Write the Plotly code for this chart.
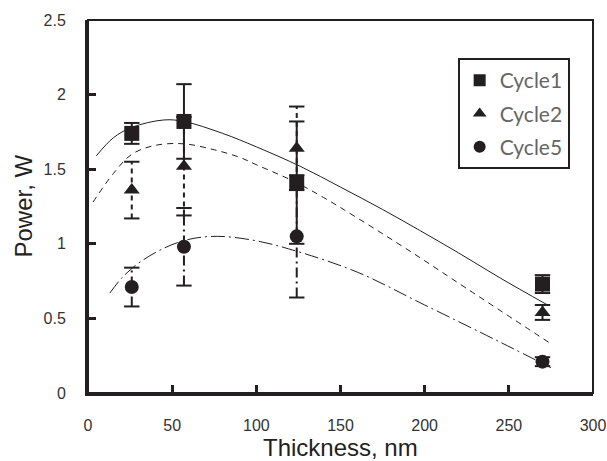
import plotly.graph_objects as go

# ---- data ----
thickness = [26, 57, 124, 270]
cycle1 = [1.74, 1.82, 1.41, 0.73]
cycle1_err = [0.07, 0.25, 0.41, 0.06]
cycle2 = [1.36, 1.52, 1.64, 0.54]
cycle2_err = [0.19, 0.33, 0.28, 0.05]
cycle5 = [0.71, 0.98, 1.05, 0.21]
cycle5_err = [0.13, 0.26, 0.41, 0.03]

# fitted trend curves
fit1_x = [5, 15, 26, 45, 57, 80, 100, 126, 150, 175, 197, 220, 245, 273]
fit1_y = [1.59, 1.71, 1.78, 1.83, 1.82, 1.74, 1.65, 1.52, 1.38, 1.23, 1.09, 0.94, 0.77, 0.59]
fit2_x = [3, 15, 26, 40, 57, 75, 90, 100, 122, 140, 159, 190, 225, 275]
fit2_y = [1.28, 1.47, 1.60, 1.66, 1.67, 1.63, 1.58, 1.53, 1.42, 1.31, 1.18, 0.96, 0.70, 0.33]
fit5_x = [13, 20, 30, 45, 60, 77, 100, 124, 160, 200, 245, 275]
fit5_y = [0.67, 0.77, 0.87, 0.97, 1.03, 1.05, 1.02, 0.95, 0.81, 0.59, 0.34, 0.17]

names = ["Cycle1", "Cycle2", "Cycle5"]
symbols = ["square", "triangle-up", "circle"]
dashes = ["solid", "5px,4px", "10px,4px,2px,4px"]
INK = "#231f20"

fig = go.Figure()

# fit curves
for fx, fy, d in [(fit1_x, fit1_y, "solid"), (fit2_x, fit2_y, "6px,5px"),
                  (fit5_x, fit5_y, "14px,4px,2px,4px")]:
    fig.add_trace(go.Scatter(x=fx, y=fy, mode="lines",
                             line=dict(color=INK, width=1, dash=d, shape="spline", smoothing=1.0),
                             showlegend=False, hoverinfo="skip"))

# error bars (drawn as line segments so they can be dashed)
for vals, errs, d in [(cycle1, cycle1_err, dashes[0]), (cycle2, cycle2_err, dashes[1]),
                      (cycle5, cycle5_err, dashes[2])]:
    bx, by, cx, cy = [], [], [], []
    for x, v, e in zip(thickness, vals, errs):
        bx += [x, x, None]
        by += [v - e, v + e, None]
        cx += [x, x]
        cy += [v - e, v + e]
    fig.add_trace(go.Scatter(x=bx, y=by, mode="lines", line=dict(color=INK, width=2, dash=d),
                             showlegend=False, hoverinfo="skip"))
    fig.add_trace(go.Scatter(x=cx, y=cy, mode="markers",
                             marker=dict(symbol="line-ew", size=11, line=dict(color=INK, width=2)),
                             showlegend=False, hoverinfo="skip"))

# markers
for vals, nm, sym, sz in [(cycle1, names[0], symbols[0], 15), (cycle2, names[1], symbols[1], 14),
                          (cycle5, names[2], symbols[2], 14)]:
    fig.add_trace(go.Scatter(x=thickness, y=vals, mode="markers", name=nm, legendgroup=nm,
                             marker=dict(symbol=sym, size=sz, color=INK)))

axis_common = dict(showgrid=False, zeroline=False, showline=True, linecolor=INK, linewidth=3,
                   ticks="inside", ticklen=8, tickwidth=3, tickcolor=INK, automargin=False,
                   tickfont=dict(family="Liberation Sans, Arial, sans-serif", size=16, color="#333333"))

fig.update_xaxes(range=[0, 300], dtick=50, tick0=0, ticklabelstandoff=16, **axis_common)
fig.update_yaxes(range=[0, 2.5], dtick=0.5, tick0=0, ticklabelstandoff=16, **axis_common)

fig.add_shape(type="rect", xref="paper", yref="paper", x0=0, y0=0, x1=1, y1=1,
              line=dict(color=INK, width=2), layer="below")

fig.add_annotation(text="Thickness, nm", xref="paper", yref="paper", x=0.5, y=0, yshift=-54,
                   showarrow=False, yanchor="middle",
                   font=dict(family="Liberation Sans, Arial, sans-serif", size=24, color="#222222"))
fig.add_annotation(text="Power, W", xref="paper", yref="paper", x=0, y=0.5, xshift=-65,
                   showarrow=False, textangle=-90, xanchor="center",
                   font=dict(family="Liberation Sans, Arial, sans-serif", size=24, color="#222222"))

fig.update_layout(
    width=607, height=461,
    margin=dict(l=88, r=14, t=20, b=68),
    paper_bgcolor="white", plot_bgcolor="white",
    showlegend=True,
    legend=dict(x=0.732, y=0.898, xanchor="left", yanchor="top",
                bordercolor=INK, borderwidth=2, bgcolor="white",
                font=dict(family="Lato, Open Sans, sans-serif", size=21, color="#666666"),
                itemsizing="constant", traceorder="grouped", tracegroupgap=3, itemwidth=30),
)

fig.write_html("out.html")
